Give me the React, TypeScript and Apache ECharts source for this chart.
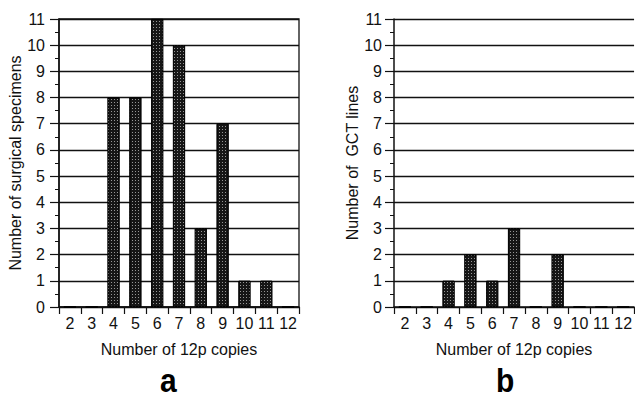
import React, { useEffect, useRef } from "react";
import * as echarts from "echarts";

const categories = ["2", "3", "4", "5", "6", "7", "8", "9", "10", "11", "12"];
const specimens = [0, 0, 8, 8, 11, 10, 3, 7, 1, 1, 0];
const gctLines = [0, 0, 1, 2, 1, 3, 0, 2, 0, 0, 0];
const yTitleA = "Number of surgical specimens";
const yTitleB = "Number of  GCT lines";
const xTitle = "Number of 12p copies";

const FONT = "'Liberation Sans', Arial, Helvetica, sans-serif";

const decal = {
  symbol: "rect",
  symbolSize: 1,
  color: "rgba(255,255,255,0.55)",
  dashArrayX: [1, 2],
  dashArrayY: [1, 2],
  rotation: 0,
};

function xAxisDef(gridIndex: number) {
  return {
    type: "category",
    gridIndex,
    data: categories,
    boundaryGap: true,
    name: xTitle,
    nameLocation: "middle",
    nameGap: 34,
    nameTextStyle: { fontFamily: FONT, fontSize: 16, color: "#111" },
    axisLine: { show: true, lineStyle: { color: "#111", width: 1.5 } },
    axisTick: { show: true, alignWithLabel: false, length: 7, lineStyle: { color: "#111", width: 1.2 } },
    axisLabel: { fontFamily: FONT, fontSize: 16, color: "#111", margin: 8, interval: 0 },
    splitLine: { show: false },
  };
}

function yAxisDef(gridIndex: number, name: string, gap: number, labelMargin: number) {
  return {
    type: "value",
    gridIndex,
    min: 0,
    max: 11,
    interval: 1,
    name,
    nameLocation: "middle",
    nameGap: gap,
    nameTextStyle: { fontFamily: FONT, fontSize: 16, color: "#111" },
    axisLine: { show: true, lineStyle: { color: "#111", width: 1.5 } },
    axisTick: { show: true, length: 9, lineStyle: { color: "#111", width: 1.2 } },
    minorTick: { show: true, splitNumber: 2, length: 4, lineStyle: { color: "#111", width: 1 } },
    axisLabel: { fontFamily: FONT, fontSize: 16, color: "#111", margin: labelMargin },
    splitLine: { show: true, lineStyle: { color: "#111", width: 1.3 } },
  };
}

export default function App() {
  const ref = useRef<HTMLDivElement>(null);
  useEffect(() => {
    if (!ref.current) return;
    const chart = echarts.init(ref.current, null, { renderer: "svg" });
    chart.setOption({
      animation: false,
      backgroundColor: "#fff",
      grid: [
        { left: 59, top: 19, width: 240, height: 288, show: true, borderColor: "#111", borderWidth: 1.3, backgroundColor: "transparent" },
        { left: 394, top: 19, width: 241, height: 288 },
      ],
      xAxis: [xAxisDef(0), xAxisDef(1)],
      yAxis: [yAxisDef(0, yTitleA, 33, 14), yAxisDef(1, yTitleB, 33, 12)],
      series: [
        {
          type: "bar",
          xAxisIndex: 0,
          yAxisIndex: 0,
          data: specimens,
          barWidth: "55%",
          itemStyle: { color: "#161616", borderColor: "#000", borderWidth: 0.8, decal },
        },
        {
          type: "bar",
          xAxisIndex: 1,
          yAxisIndex: 1,
          data: gctLines,
          barWidth: "55%",
          itemStyle: { color: "#161616", borderColor: "#000", borderWidth: 0.8, decal },
        },
      ],
      graphic: [
        {
          type: "text",
          x: 160,
          y: 364,
          scaleY: 1.1,
          style: { text: "a", font: `bold 30px ${FONT}`, fill: "#000", textAlign: "left", textVerticalAlign: "top" },
        },
        {
          type: "text",
          x: 496,
          y: 364,
          scaleY: 1.1,
          style: { text: "b", font: `bold 30px ${FONT}`, fill: "#000", textAlign: "left", textVerticalAlign: "top" },
        },
      ],
    });
    return () => chart.dispose();
  }, []);
  return (
    <div
      ref={ref}
      style={{ position: "fixed", left: 0, top: 0, width: 635, height: 399, background: "#fff" }}
    />
  );
}
